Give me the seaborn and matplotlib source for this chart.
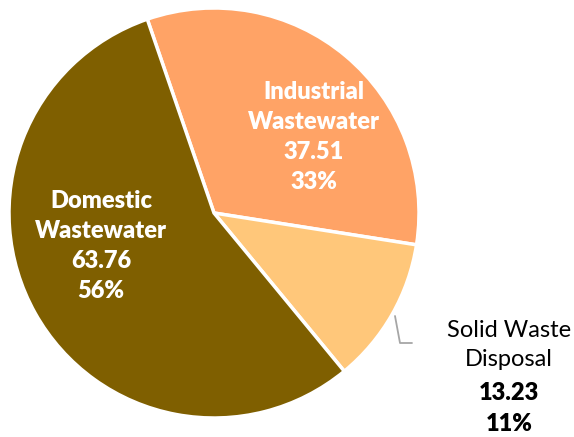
import matplotlib
matplotlib.use("Agg")
import matplotlib.pyplot as plt
import seaborn as sns

# ---------------------------------------------------------------------------
# Datos
# ---------------------------------------------------------------------------
categorias = ["Industrial\nWastewater", "Solid Waste\nDisposal", "Domestic\nWastewater"]
valores = [37.51, 13.23, 63.76]
porcentajes = ["33%", "11%", "56%"]
colores = ["#FFA366", "#FFC77A", "#7F5F00"]

sns.set_theme(style="white")
plt.rcParams["font.family"] = ["Lato", "DejaVu Sans"]

W, H = 574, 437
fig = plt.figure(figsize=(W / 100, H / 100), dpi=100)

# centro del pastel (214, 213) px, radio 205 px
cx, cy, r = 214, 213, 205
ax = fig.add_axes([(cx - r) / W, (H - cy - r) / H, 2 * r / W, 2 * r / H])

ax.pie(valores, colors=colores, startangle=109, counterclock=False,
       radius=1, wedgeprops=dict(edgecolor="white", linewidth=2.5))
ax.set_xlim(-1, 1)
ax.set_ylim(-1, 1)
ax.set_aspect("equal")
ax.axis("off")


def px(x, y):
    """Pixel (origen arriba-izquierda) a coordenadas de datos."""
    return (x - cx) / r, (cy - y) / r


# etiquetas internas
for i, (x, y) in [(0, (314, 137)), (2, (101, 246))]:
    tx, ty = px(x, y)
    ax.text(tx, ty, f"{categorias[i]}\n{valores[i]:.2f}\n{porcentajes[i]}",
            ha="center", va="center", color="white", fontsize=17,
            fontweight="heavy", linespacing=1.45)

# línea guía de Solid Waste
xs, ys = zip(px(395, 316), px(400, 343), px(412, 343))
ax.plot(xs, ys, color="#A6A6A6", lw=1.3, clip_on=False)

# etiqueta externa
lx = 509
ax.text(*px(lx, 345), categorias[1], ha="center", va="center",
        color="black", fontsize=17, linespacing=1.5, clip_on=False)
ax.text(*px(lx, 393), f"{valores[1]:.2f}", ha="center", va="center",
        color="black", fontsize=17, fontweight="heavy", clip_on=False)
ax.text(*px(lx, 424), porcentajes[1], ha="center", va="center",
        color="black", fontsize=17, fontweight="heavy", clip_on=False)

fig.savefig("out.png", dpi=100)
